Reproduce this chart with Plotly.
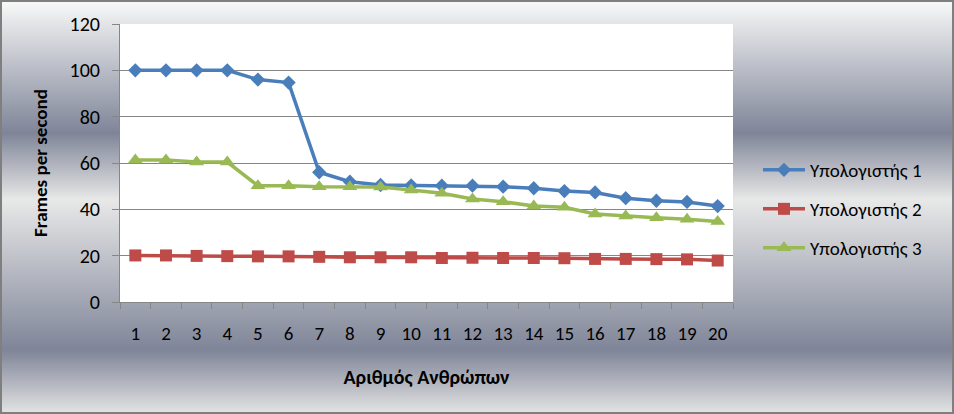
import plotly.graph_objects as go

# ---- data ----
people = [str(i) for i in range(1, 21)]
pc1 = [100, 100, 100, 100, 96.0, 94.7, 56.0, 51.9, 50.5, 50.3, 50.2, 50.2, 49.8, 49.1, 47.9, 47.3, 44.8, 43.7, 43.2, 41.4]
pc2 = [20.1, 20.1, 19.9, 19.8, 19.7, 19.7, 19.5, 19.3, 19.3, 19.3, 19.0, 19.1, 19.0, 19.0, 18.9, 18.6, 18.6, 18.5, 18.4, 17.9]
pc3 = [61.3, 61.3, 60.4, 60.4, 50.2, 50.2, 49.8, 49.8, 49.6, 48.3, 46.9, 44.5, 43.3, 41.4, 40.9, 38.0, 37.1, 36.4, 35.7, 34.7]
series_names = ["Υπολογιστής 1", "Υπολογιστής 2", "Υπολογιστής 3"]
y_ticks = [0, 20, 40, 60, 80, 100, 120]

# ---- style ----
W, H = 954, 414
ML, MR, MT, MB = 120, 221, 24, 112
PW, PH = W - ML - MR, H - MT - MB
FONT = "Carlito, Calibri, 'Liberation Sans', sans-serif"
colors = ["#4a7ebb", "#be4b48", "#98b954"]
symbols = ["diamond", "square", "triangle-up"]
msizes = [11, 12, 13]

fig = go.Figure()
for i, (name, vals) in enumerate(zip(series_names, [pc1, pc2, pc3])):
    fig.add_trace(go.Scatter(
        x=people, y=vals, name=name, mode="lines+markers",
        line=dict(color=colors[i], width=3.5),
        marker=dict(symbol=symbols[i], size=msizes[i], color=colors[i]),
        legend="legend" if i == 0 else f"legend{i+1}",
        showlegend=True,
    ))

# chrome-like vertical gradient background
stops = [(0, (250, 250, 250)), (12, (238, 239, 240)), (133, (127, 133, 152)),
         (200, (232, 232, 232)), (350, (127, 133, 152)), (414, (228, 228, 228))]

def col_at(py):
    for (p0, c0), (p1, c1) in zip(stops[:-1], stops[1:]):
        if p0 <= py <= p1:
            t = (py - p0) / (p1 - p0)
            return "rgb(%d,%d,%d)" % tuple(round(a + (b - a) * t) for a, b in zip(c0, c1))
    return "rgb(228,228,228)"

shapes = []
x0p, x1p = -ML / PW, (W - ML) / PW
step = 2
for py in range(0, H, step):
    shapes.append(dict(type="rect", xref="paper", yref="paper", layer="below",
                       x0=x0p, x1=x1p, y0=(H - MB - py - step) / PH, y1=(H - MB - py) / PH,
                       line=dict(width=0), fillcolor=col_at(py + step / 2)))
# white plot area
shapes.append(dict(type="rect", xref="paper", yref="paper", layer="below",
                   x0=0, x1=1, y0=0, y1=1, line=dict(width=0), fillcolor="white"))
# outer border
shapes.append(dict(type="rect", xref="paper", yref="paper", layer="above",
                   x0=(-ML + 1) / PW, x1=(W - ML - 1) / PW, y0=(-MB + 1) / PH, y1=(H - MB - 1) / PH,
                   line=dict(width=2, color="#7f7f7f"), fillcolor="rgba(0,0,0,0)"))

leg_common = dict(bgcolor="rgba(0,0,0,0)", font=dict(family=FONT, size=19, color="#000"),
                  xanchor="left", yanchor="middle", x=(758 - ML) / PW, itemwidth=42)
fig.update_layout(
    width=W, height=H, showlegend=True,
    margin=dict(l=ML, r=MR, t=MT, b=MB, autoexpand=False),
    paper_bgcolor="#e4e4e4", plot_bgcolor="white",
    font=dict(family=FONT, size=18, color="#000"),
    shapes=shapes,
    legend=dict(y=(H - MB - 170) / PH, **leg_common),
    legend2=dict(y=(H - MB - 209) / PH, **leg_common),
    legend3=dict(y=(H - MB - 248) / PH, **leg_common),
    xaxis=dict(type="category", range=[-0.5, 19.5], tickson="boundaries", ticks="outside", ticklen=6,
               tickcolor="#868686", showline=True, linecolor="#868686", linewidth=1,
               showgrid=False, ticklabelstandoff=14,
               tickfont=dict(family=FONT, size=19),
               title=dict(text="<b>Αριθμός Ανθρώπων</b>", standoff=26,
                          font=dict(family=FONT, size=20))),
    yaxis=dict(range=[0, 120], tickvals=y_ticks, ticks="outside", ticklen=7,
               tickcolor="#868686", showline=True, linecolor="#868686", linewidth=1,
               showgrid=True, gridcolor="#868686", gridwidth=1, zeroline=False,
               ticklabelstandoff=8,
               tickfont=dict(family=FONT, size=20),
               title=dict(text="<b>Frames per second</b>", standoff=16,
                          font=dict(family=FONT, size=19))),
)

fig.write_html("out.html")
